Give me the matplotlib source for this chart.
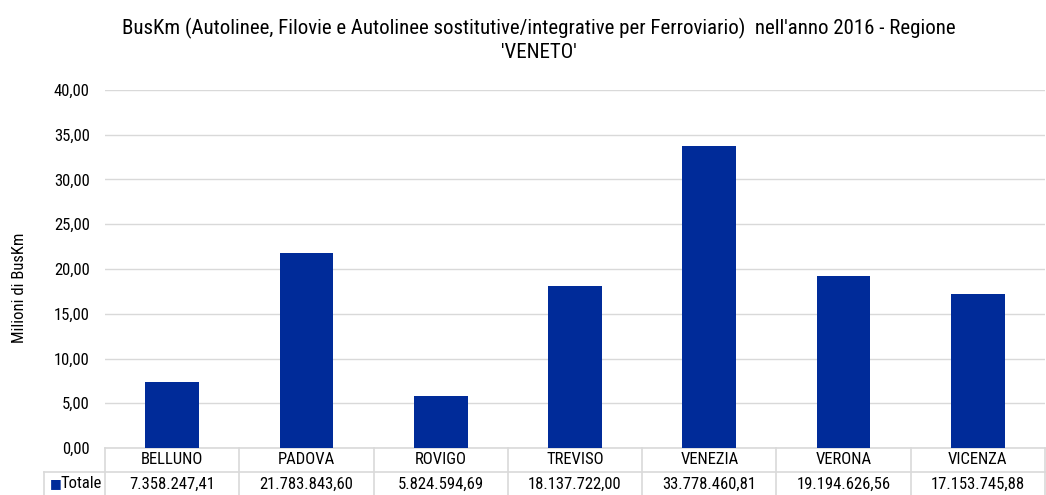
import matplotlib
matplotlib.use("Agg")
from matplotlib import pyplot as plt
from matplotlib import font_manager
import matplotlib.transforms as mtransforms

# condensed font, first one that is installed
names = set(f.name for f in font_manager.fontManager.ttflist)
fam = 'Roboto'
for cand in ['Roboto Condensed', 'Archivo Narrow', 'IBM Plex Sans Condensed', 'Liberation Sans Narrow']:
    if cand in names:
        fam = cand
        break
plt.rcParams['font.family'] = [fam, 'DejaVu Sans']

province = ['BELLUNO', 'PADOVA', 'ROVIGO', 'TREVISO', 'VENEZIA', 'VERONA', 'VICENZA']
totale = [7358247.41, 21783843.60, 5824594.69, 18137722.00, 33778460.81, 19194626.56, 17153745.88]
yticks = [0, 5, 10, 15, 20, 25, 30, 35, 40]

def fmt_it(v, dec=2):
    s = f"{v:,.{dec}f}"
    return s.replace(',', 'X').replace('.', ',').replace('X', '.')

bar_color = '#002B99'
grid_color = '#D9D9D9'

fig = plt.figure(figsize=(10.46, 4.95), dpi=100)
ax = fig.add_axes([105/1046, 1-448/495, 940/1046, 358/495])

x = list(range(len(province)))
vals = [v / 1e6 for v in totale]
ax.bar(x, vals, width=0.40, color=bar_color, zorder=3)
ax.set_xlim(-0.5, len(province) - 0.5)
ax.set_ylim(0, 40)
ax.set_yticks(yticks)
ax.set_yticklabels([fmt_it(t) for t in yticks], fontsize=12)
ax.yaxis.grid(True, color=grid_color, linewidth=1)
ax.set_axisbelow(True)
ax.set_xticks([])
for s in ax.spines.values():
    s.set_visible(False)
ax.tick_params(axis='y', length=0, pad=11)
ax.set_ylabel('Milioni di BusKm', fontsize=12)
ax.yaxis.set_label_coords(-0.083, 0.447)

fig.text(0.515, 1 - 40/495,
         "BusKm (Autolinee, Filovie e Autolinee sostitutive/integrative per Ferroviario)  nell'anno 2016 - Regione\n'VENETO'",
         ha='center', va='center', fontsize=15, linespacing=1.3)

# data table below the axes
tr = mtransforms.blended_transform_factory(ax.transData, ax.transAxes)
row_h = 24 / 358
y0 = 0
y1 = -row_h
y2 = -2 * row_h
lw = 1.2
lx = -0.5 - 61 / 134.3
ax.plot([-0.5, 6.5], [y0, y0], color=grid_color, lw=lw, transform=tr, clip_on=False)
ax.plot([lx, 6.5], [y1, y1], color=grid_color, lw=lw, transform=tr, clip_on=False)
ax.plot([lx, lx], [y1, y2], color=grid_color, lw=lw, transform=tr, clip_on=False)
for k in range(len(province) + 1):
    ax.plot([k - 0.5, k - 0.5], [y0, y2], color=grid_color, lw=lw, transform=tr, clip_on=False)
for i, p in enumerate(province):
    ax.text(i, (y0 + y1) / 2, p, ha='center', va='center', fontsize=12, transform=tr)
    ax.text(i, (y1 + y2) / 2, fmt_it(totale[i]), ha='center', va='center', fontsize=12, transform=tr)
ax.text(lx + 0.04, (y1 + y2) / 2, '\u25A0', color=bar_color, ha='left', va='center',
        fontsize=9, transform=tr, family='DejaVu Sans')
ax.text(lx + 0.12, (y1 + y2) / 2, 'Totale', ha='left', va='center', fontsize=12, transform=tr)

fig.savefig('out.png', dpi=100)
